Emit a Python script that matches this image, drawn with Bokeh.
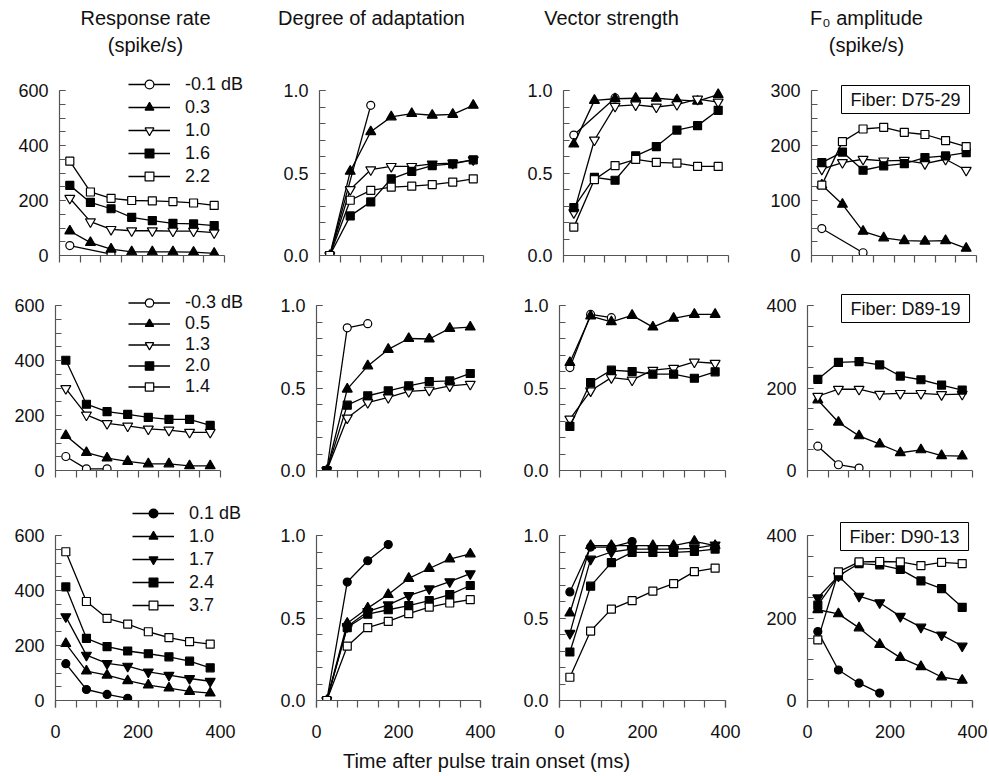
from bokeh.plotting import figure
from bokeh.layouts import column, row
from bokeh.models import (FixedTicker, Legend, LegendItem, Label,
                          PrintfTickFormatter, ColumnDataSource)
from bokeh.embed import file_html
from bokeh.resources import INLINE

FONT = "Liberation Sans"
NAN = float("nan")

# ---------------- data ----------------
T = [25, 75, 125, 175, 225, 275, 325, 375]

headers = ["Response rate", "Degree of adaptation", "Vector strength", "F\u2080 amplitude"]
header2 = ["(spike/s)", None, None, "(spike/s)"]
fibers = ["Fiber: D75-29", "Fiber: D89-19", "Fiber: D90-13"]
x_title = "Time after pulse train onset (ms)"

# Fiber D75-29
levels_1 = ["-0.1 dB", "0.3", "1.0", "1.6", "2.2"]
times_1 = [[25, 125], T, T, T, T]
rate_1 = [
    [36, 5],
    [89, 47, 23, 13, 13, 13, 12, 8],
    [208, 123, 95, 90, 90, 89, 89, 83],
    [255, 193, 170, 139, 127, 117, 115, 109],
    [343, 231, 208, 200, 199, 196, 191, 182],
]
adapt_1 = [
    [0, 0.91],
    [0, 0.51, 0.75, 0.84, 0.86, 0.85, 0.855, 0.91],
    [0, 0.40, 0.52, 0.54, 0.54, 0.555, 0.56, 0.58],
    [0, 0.24, 0.325, 0.465, 0.51, 0.545, 0.555, 0.58],
    [0, 0.335, 0.395, 0.415, 0.42, 0.43, 0.445, 0.465],
]
vs_1 = [
    [0.73, 0.955],
    [0.675, 0.94, 0.95, 0.953, 0.953, 0.943, 0.935, 0.975],
    [0.26, 0.70, 0.905, 0.913, 0.90, 0.915, 0.948, 0.93],
    [0.29, 0.473, 0.456, 0.604, 0.66, 0.76, 0.787, 0.88],
    [0.172, 0.46, 0.545, 0.582, 0.565, 0.56, 0.54, 0.54],
]
f0_1 = [
    [49, 5],
    [128, 93, 44, 32, 27, 26, 27, 13],
    [157, 169, 175, 172, 173, 167, 175, 155],
    [169, 188, 155, 163, 167, 178, 181, 187],
    [128, 207, 230, 233, 224, 220, 209, 198],
]

# Fiber D89-19 (the 1.4 level has no plotted values: NaN)
levels_2 = ["-0.3 dB", "0.5", "1.3", "2.0", "1.4"]
times_2 = [[25, 75, 125], T, T, T, [NAN]]
rate_2 = [
    [51, 6, 6],
    [127, 65, 45, 33, 24, 24, 17, 17],
    [298, 202, 171, 162, 151, 147, 139, 139],
    [401, 241, 214, 204, 193, 186, 186, 164],
    [NAN],
]
adapt_2 = [
    [0, 0.865, 0.89],
    [0, 0.493, 0.634, 0.734, 0.80, 0.797, 0.861, 0.869],
    [0, 0.318, 0.412, 0.443, 0.479, 0.487, 0.513, 0.523],
    [0, 0.396, 0.453, 0.483, 0.513, 0.539, 0.543, 0.588],
    [NAN],
]
vs_2 = [
    [0.624, 0.946, 0.926],
    [0.654, 0.936, 0.901, 0.94, 0.869, 0.922, 0.946, 0.946],
    [0.312, 0.483, 0.563, 0.549, 0.608, 0.62, 0.658, 0.65],
    [0.268, 0.533, 0.608, 0.60, 0.584, 0.584, 0.559, 0.598],
    [NAN],
]
f0_2 = [
    [59, 14, 6],
    [171, 117, 84, 64, 43, 50, 36, 35],
    [180, 197, 197, 185, 187, 187, 184, 185],
    [221, 262, 264, 256, 229, 220, 207, 195],
    [NAN],
]

# Fiber D90-13
levels_3 = ["0.1 dB", "1.0", "1.7", "2.4", "3.7"]
times_3 = [[25, 75, 125, 175], T, T, T, T]
rate_3 = [
    [134, 40, 22, 8],
    [207, 107, 92, 72, 56, 45, 33, 27],
    [305, 165, 135, 125, 104, 92, 80, 70],
    [413, 226, 196, 180, 170, 159, 143, 119],
    [541, 360, 299, 278, 250, 229, 214, 205],
]
adapt_3 = [
    [0, 0.718, 0.847, 0.945],
    [0, 0.468, 0.56, 0.642, 0.74, 0.80, 0.857, 0.888],
    [0, 0.448, 0.54, 0.58, 0.636, 0.677, 0.72, 0.769],
    [0, 0.442, 0.523, 0.55, 0.575, 0.605, 0.642, 0.697],
    [0, 0.329, 0.442, 0.479, 0.526, 0.566, 0.591, 0.611],
]
vs_3 = [
    [0.658, 0.93, 0.93, 0.963],
    [0.53, 0.939, 0.939, 0.939, 0.939, 0.939, 0.965, 0.939],
    [0.407, 0.857, 0.90, 0.918, 0.918, 0.918, 0.922, 0.943],
    [0.294, 0.693, 0.836, 0.898, 0.898, 0.898, 0.904, 0.918],
    [0.141, 0.421, 0.554, 0.605, 0.663, 0.708, 0.781, 0.802],
]
f0_3 = [
    [167, 74, 42, 18],
    [220, 210, 176, 136, 104, 82, 57, 49],
    [249, 302, 253, 237, 204, 178, 159, 132],
    [231, 302, 332, 329, 318, 290, 271, 226],
    [147, 312, 336, 337, 336, 327, 335, 332],
]

# ---------------- styles ----------------
MARKERS = ["circle", "triangle", "inverted_triangle", "square", "square"]
SIZES = [8, 10, 10, 8, 8]
FILLS_A = ["white", "black", "white", "black", "white"]
FILLS_C = ["black", "black", "black", "black", "white"]
AX = "#555555"
TXT = "#111111"

rows_data = [
    (levels_1, times_1, [rate_1, adapt_1, vs_1, f0_1], FILLS_A),
    (levels_2, times_2, [rate_2, adapt_2, vs_2, f0_2], FILLS_A),
    (levels_3, times_3, [rate_3, adapt_3, vs_3, f0_3], FILLS_C),
]

# geometry (pixels)
HEADER_H = 66
XLABEL_H = 30
COL_X0 = [0, 268, 513, 758]
COL_W = [268, 245, 245, 231]
AXIS_LEFT = [[59, 319, 563, 811], [55, 316, 559, 807], [55, 316, 559, 807]]
AXIS_W = [[165, 164, 165, 165], [165, 164, 166, 165], [165, 164, 166, 165]]
# (figure top, axis top, axis bottom, figure bottom)
ROW_Y = [(66, 90, 255, 278), (278, 305, 470, 498), (498, 535, 700, 745)]

F0_MAX = [300, 400, 400]
LEG_POS = [(69, 68), (73, 73), (77, 84)]
LEG_GH = [22, 21, 22]
LEG_SP = [1, 0, 1]
FIBER_POS = [(30, 170), (34, 176), (33, 178)]
HEADER_X = [145, 371, 611, 866]


def yaxis_setup(c, r):
    if c == 0:
        return 600, [0, 200, 400, 600], list(range(0, 601, 50)), None
    if c in (1, 2):
        return 1.0, [0, 0.5, 1.0], [i / 10 for i in range(11)], "%.1f"
    if F0_MAX[r] == 300:
        return 300, [0, 100, 200, 300], list(range(0, 301, 25)), None
    return 400, [0, 200, 400], list(range(0, 401, 50)), None


def style_axis(a):
    a.axis_line_color = AX
    a.major_tick_line_color = AX
    a.minor_tick_line_color = AX
    a.axis_line_width = 1.2
    a.major_tick_line_width = 1.2
    a.minor_tick_line_width = 1.2
    a.major_label_text_font = FONT
    a.major_label_text_color = TXT
    a.major_label_text_font_size = "18px"


# header strip
hdr = figure(frame_width=sum(COL_W), frame_height=HEADER_H, x_axis_type=None, y_axis_type=None,
             min_border_left=0, min_border_right=0, min_border_top=0, min_border_bottom=0,
             output_backend="svg", toolbar_location=None, title=None,
             x_range=(0, 1), y_range=(0, 1))
hdr.outline_line_color = None
hdr.grid.visible = False
for c in range(4):
    hdr.add_layout(Label(x=HEADER_X[c], y=HEADER_H - 17, x_units="screen", y_units="screen",
                         text=headers[c], text_font=FONT, text_font_size="20px",
                         text_align="center", text_baseline="middle", text_color=TXT))
    if header2[c]:
        hdr.add_layout(Label(x=HEADER_X[c], y=HEADER_H - 44, x_units="screen", y_units="screen",
                             text=header2[c], text_font=FONT, text_font_size="20px",
                             text_align="center", text_baseline="middle", text_color=TXT))

grid_rows = []
for r, (levels, times, panels, fills) in enumerate(rows_data):
    fig_top, ax_top, ax_bot, fig_bot = ROW_Y[r]
    ax_h = ax_bot - ax_top
    fr_h = ax_bot - fig_top
    bot_b = fig_bot - ax_bot
    figs = []
    for c in range(4):
        ymax, yt, ym, yfmt = yaxis_setup(c, r)
        left = AXIS_LEFT[r][c] - COL_X0[c]
        fr_w = COL_W[c] - left
        ax_w = AXIS_W[r][c]
        p = figure(frame_width=fr_w, frame_height=fr_h,
                   x_range=(0, 400.0 * fr_w / ax_w), y_range=(0, ymax * fr_h / ax_h),
                   min_border_left=left, min_border_right=0,
                   min_border_top=0, min_border_bottom=bot_b,
                   output_backend="svg", toolbar_location=None, title=None)
        p.grid.visible = False
        p.outline_line_color = None
        p.background_fill_color = "white"
        p.border_fill_color = "white"

        xa = p.xaxis[0]
        style_axis(xa)
        xa.bounds = (0, 400)
        if r < 2:
            xa.ticker = FixedTicker(ticks=[], minor_ticks=list(range(0, 401, 50)))
        else:
            xa.ticker = FixedTicker(ticks=[0, 200, 400], minor_ticks=list(range(0, 401, 50)))
        xa.major_tick_in = 0
        xa.major_tick_out = 7
        xa.minor_tick_in = 0
        xa.minor_tick_out = 7
        xa.major_label_standoff = 17

        ya = p.yaxis[0]
        style_axis(ya)
        ya.bounds = (0, ymax)
        ya.ticker = FixedTicker(ticks=yt, minor_ticks=ym)
        ya.major_tick_in = 6
        ya.major_tick_out = 0
        ya.minor_tick_in = 6
        ya.minor_tick_out = 0
        ya.major_label_standoff = 11
        if yfmt:
            ya.formatter = PrintfTickFormatter(format=yfmt)

        vals = panels[c]
        items = []
        for i in range(5):
            src = ColumnDataSource(dict(x=times[i], y=vals[i]))
            ln = p.line("x", "y", source=src, line_color="black", line_width=1.3)
            mk = p.scatter("x", "y", source=src, marker=MARKERS[i], size=SIZES[i],
                           fill_color=fills[i], line_color="black", line_width=1.2)
            items.append(LegendItem(label=levels[i], renderers=[ln, mk]))

        if c == 0:
            leg = Legend(items=items, location=LEG_POS[r],
                         glyph_width=42, glyph_height=LEG_GH[r], label_standoff=15,
                         spacing=LEG_SP[r], padding=0, margin=0,
                         border_line_color=None, background_fill_alpha=0,
                         label_text_font=FONT, label_text_font_size="18px",
                         label_height=LEG_GH[r], label_text_color=TXT)
            p.add_layout(leg)

        if c == 3:
            fx, fy = FIBER_POS[r]
            p.add_layout(Label(x=fx, y=fy, x_units="screen", y_units="screen",
                               text=fibers[r], text_font=FONT, text_font_size="18px",
                               text_align="left", text_baseline="top",
                               border_line_color="black", border_line_width=1,
                               background_fill_color="white", padding=(9, 4),
                               text_color=TXT))
        figs.append(p)
    grid_rows.append(row(*figs, spacing=0))

xl = figure(frame_width=sum(COL_W), frame_height=XLABEL_H, x_axis_type=None, y_axis_type=None,
            min_border_left=0, min_border_right=0, min_border_top=0, min_border_bottom=0,
            output_backend="svg", toolbar_location=None, title=None,
            x_range=(0, 1), y_range=(0, 1))
xl.outline_line_color = None
xl.grid.visible = False
xl.add_layout(Label(x=486, y=XLABEL_H - 15, x_units="screen", y_units="screen",
                    text=x_title, text_font=FONT, text_font_size="20px",
                    text_align="center", text_baseline="middle", text_color=TXT))

layout = column(hdr, *grid_rows, xl, spacing=0)

with open("out.html", "w") as f:
    f.write(file_html(layout, INLINE))
